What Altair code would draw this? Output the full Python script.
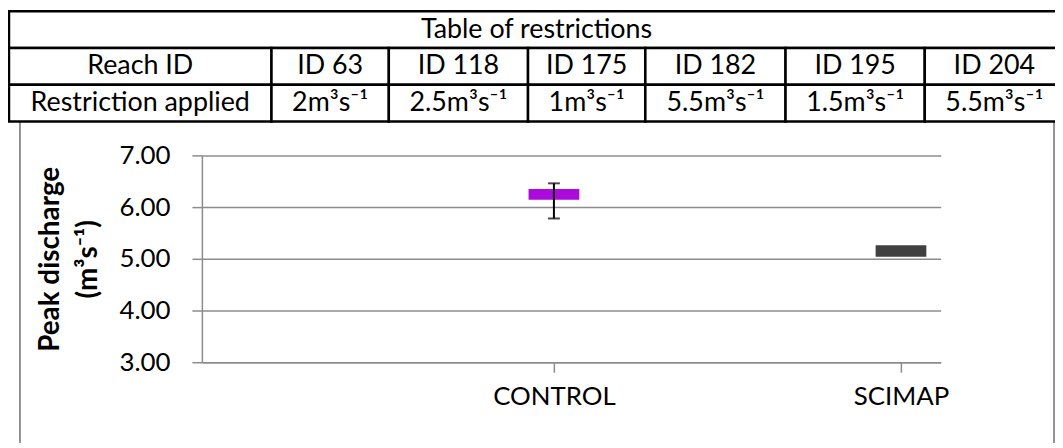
import altair as alt
import pandas as pd

# ---------------- data ----------------
categories = ["CONTROL", "SCIMAP"]
cat_pos = [1, 2]
bar_low = [6.14, 5.04]
bar_high = [6.35, 5.26]
bar_colors = ["#AA0ADC", "#404040"]
err_cat = ["CONTROL"]
err_pos = [1]
err_low = [5.78]
err_high = [6.46]
y_ticks = [3, 4, 5, 6, 7]

table_title = "Table of restrictions"
row_labels = ["Reach ID", "Restriction applied"]
reach_ids = ["ID 63", "ID 118", "ID 175", "ID 182", "ID 195", "ID 204"]
restrictions = ["2m³s⁻¹", "2.5m³s⁻¹", "1m³s⁻¹", "5.5m³s⁻¹", "1.5m³s⁻¹", "5.5m³s⁻¹"]

# ---------------- layout (pixels relative to plot origin) ----------------
FONT = "Lato"
GRAY = "#8c8c8c"
col_widths = [264, 118, 140, 118, 141, 140, 140]
row_heights = [37, 37, 37]
tab_left, tab_top = -194, -145

bars = pd.DataFrame({"cat": categories, "pos": cat_pos, "low": bar_low, "high": bar_high})
errs = pd.DataFrame({"cat": err_cat, "pos": err_pos, "lo": err_low, "hi": err_high})

# table cells
cells = []
edges = [tab_left]
for w in col_widths:
    edges.append(edges[-1] + w)
ys = [tab_top]
for h in row_heights:
    ys.append(ys[-1] + h)
cells.append({"x": edges[0], "x2": edges[-1], "y": ys[0], "y2": ys[1],
              "cx": (edges[0] + edges[-1]) / 2, "cy": (ys[0] + ys[1]) / 2, "t": table_title})
for r, row in enumerate([reach_ids, restrictions]):
    texts = [row_labels[r]] + row
    for c, t in enumerate(texts):
        cells.append({"x": edges[c], "x2": edges[c + 1], "y": ys[r + 1], "y2": ys[r + 2],
                      "cx": (edges[c] + edges[c + 1]) / 2, "cy": (ys[r + 1] + ys[r + 2]) / 2, "t": t})
table = pd.DataFrame(cells)

label_expr = " : ".join(
    [f"datum.value == {p} ? '{c}'" for p, c in zip(cat_pos[:-1], categories[:-1])] + [f"'{categories[-1]}'"]
)

xscale = alt.Scale(domain=[0, 2.1], nice=False, zero=False)
yscale = alt.Scale(domain=[3, 7], nice=False, zero=False)

x_axis = alt.Axis(values=cat_pos, labelExpr=label_expr, grid=False, tickSize=10, tickColor=GRAY,
                  tickWidth=1.5, domainColor=GRAY, domainWidth=1.5, labelFont=FONT, labelFontSize=26,
                  labelColor="black", labelPadding=12, title=None, labelAngle=0)
y_axis = alt.Axis(values=y_ticks, format=".2f", tickSize=10, tickColor=GRAY, tickWidth=1.5,
                  domainColor=GRAY, domainWidth=1.5, gridColor=GRAY, gridWidth=1.5,
                  labelFont=FONT, labelFontSize=26, labelColor="black", labelPadding=22,
                  title=["Peak discharge", "(m³s⁻¹)"], titleFont=FONT, titleFontSize=28,
                  titleFontWeight="bold", titleColor="black", titleLineHeight=38, titlePadding=17)

bar_layer = alt.Chart(bars).mark_bar(size=51).encode(
    x=alt.X("pos:Q", scale=xscale, axis=x_axis),
    y=alt.Y("low:Q", scale=yscale, axis=y_axis),
    y2="high:Q",
    color=alt.Color("cat:N", scale=alt.Scale(domain=categories, range=bar_colors), legend=None),
)

err_rule = alt.Chart(errs).mark_rule(color="black", strokeWidth=2).encode(
    x="pos:Q", y="lo:Q", y2="hi:Q"
)
cap_lo = alt.Chart(errs).mark_tick(color="black", orient="horizontal", size=12, thickness=2).encode(
    x="pos:Q", y="lo:Q"
)
cap_hi = alt.Chart(errs).mark_tick(color="black", orient="horizontal", size=12, thickness=2).encode(
    x="pos:Q", y="hi:Q"
)

frame_l = alt.Chart(bars).mark_rule(color=GRAY, strokeWidth=1.5).encode(
    x=alt.value(-183), y=alt.value(-34), y2=alt.value(320)
)
frame_r = alt.Chart(bars).mark_rule(color=GRAY, strokeWidth=1.5).encode(
    x=alt.value(857), y=alt.value(-34), y2=alt.value(320)
)

tab_rect = alt.Chart(table).mark_rect(fill="white", stroke="black", strokeWidth=2.5).encode(
    x=alt.X("x:Q", scale=None, axis=None),
    x2="x2:Q",
    y=alt.Y("y:Q", scale=None, axis=None),
    y2="y2:Q",
)
tab_text = alt.Chart(table).mark_text(font=FONT, fontSize=27, color="black", align="center",
                                      baseline="middle").encode(
    x=alt.X("cx:Q", scale=None, axis=None),
    y=alt.Y("cy:Q", scale=None, axis=None),
    text="t:N",
)

chart = alt.layer(frame_l, frame_r, tab_rect, tab_text, bar_layer, err_rule, cap_lo, cap_hi).properties(
    width=743, height=208,
    autosize=alt.AutoSizeParams(type="none"),
    padding={"left": 195, "top": 147, "right": 115, "bottom": 80},
    background="white",
).configure_view(stroke=None)

chart.save("out.html", embed_options={"renderer": "svg", "actions": False})
